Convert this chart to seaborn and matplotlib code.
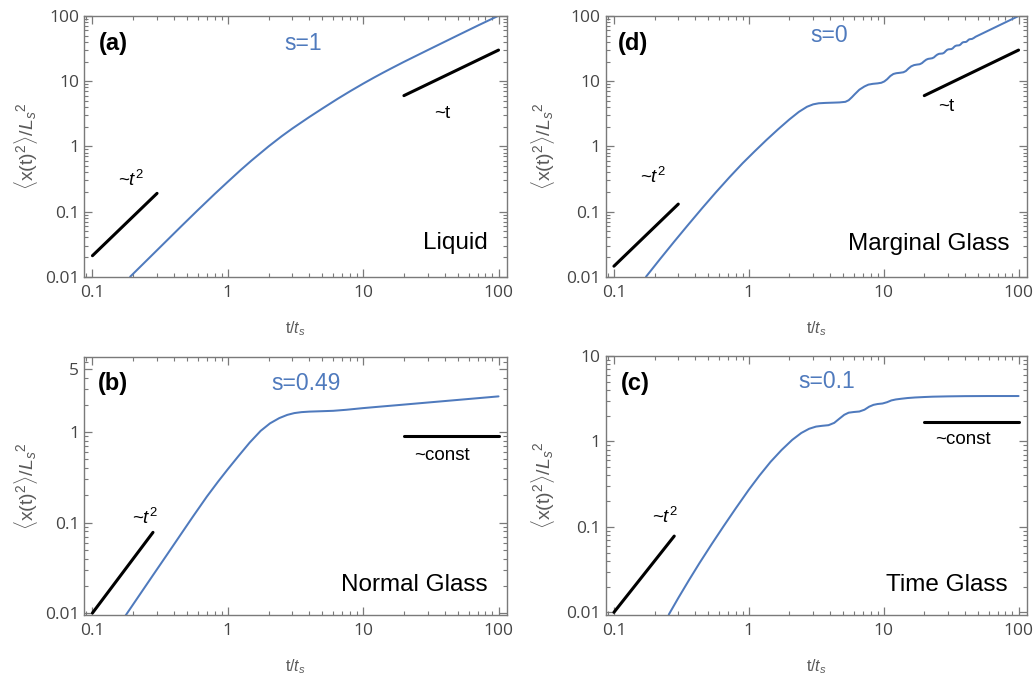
import matplotlib
matplotlib.use("Agg")
import matplotlib.pyplot as plt
import seaborn as sns
from matplotlib.ticker import FixedLocator, FixedFormatter, LogLocator, NullFormatter

# ---------------- data ----------------
# (a) Liquid, s=1
t_a = [0.19, 0.3, 0.45, 0.6, 0.8, 1.0, 1.25, 1.5, 2.0, 2.5, 3.0, 4.0, 5.0, 6.5, 8.0,
       10, 12, 14, 16, 20, 30, 50, 70, 100]
y_a = [0.010, 0.0255, 0.0586, 0.105, 0.186, 0.286, 0.437, 0.608, 0.998, 1.43, 1.88, 2.82,
       3.81, 5.39, 7.0, 9.17, 11.33, 13.47, 15.58, 19.78, 30.0, 50.5, 71.0, 101.0]

# (d) Marginal glass, s=0
t_d = [0.173, 0.22, 0.28, 0.35, 0.45, 0.57, 0.72, 0.9, 1.1, 1.35, 1.65, 2.0, 2.35, 2.7,
       3.0, 3.3, 3.7, 4.2, 4.7, 5.2, 5.5, 5.8, 6.1, 6.6, 7.2, 7.7, 8.3, 9.0, 9.6,
       10.1, 10.6, 11.2, 11.8, 12.4, 13.2, 14.0, 14.6, 15.3, 16.0, 16.8, 17.6, 18.5,
       19.2, 20.0, 20.7, 21.4, 22.2, 22.9, 23.6, 24.3, 25.0, 25.75, 27.35,
       28.1, 28.8, 29.5, 30.2, 31.8, 32.5, 33.2, 33.9, 34.65, 36.25, 37.0,
       37.7, 38.4, 39.1, 40.7, 41.4, 42.1, 42.8, 43.6, 45.1, 46.5, 48.0,
       53.0, 58.0, 65.0, 72.0, 80.0, 90.0, 100.0]
y_d = [0.010, 0.0187, 0.0346, 0.0604, 0.112, 0.197, 0.337, 0.551, 0.831, 1.25, 1.83, 2.59,
       3.38, 4.05, 4.41, 4.58, 4.64, 4.68, 4.72, 4.82, 5.1, 5.65, 6.3, 7.4, 8.3, 8.85,
       9.1, 9.25, 9.45, 9.9, 10.7, 12.0, 12.9, 13.25, 13.45, 13.7, 14.3, 15.7, 16.9,
       17.65, 17.95, 18.2, 18.9, 20.3, 21.4, 22.0, 22.25, 22.5, 23.2, 24.5, 25.6, 26.3,
       26.6, 27.4, 28.9, 30.2, 30.8, 31.1, 31.9, 33.4, 34.6, 35.2, 35.5, 36.3,
       37.8, 39.2, 39.7, 40.0, 40.8, 42.2, 43.5, 44.1, 44.4, 45.9, 48.0,
       53.0, 58.0, 65.0, 72.0, 80.0, 90.0, 100.0]

# (b) Normal glass, s=0.49
t_b = [0.175, 0.22, 0.28, 0.35, 0.44, 0.55, 0.7, 0.85, 1.0, 1.2, 1.45, 1.75, 2.05, 2.4,
       2.75, 3.1, 3.5, 4.0, 5.0, 6.0, 7.5, 9.9, 13, 18, 25, 35, 50, 70, 100]
y_b = [0.0093, 0.0154, 0.0262, 0.0427, 0.0707, 0.1155, 0.194, 0.286, 0.390, 0.546, 0.768,
       1.037, 1.254, 1.434, 1.556, 1.629, 1.669, 1.691, 1.710, 1.726, 1.772, 1.847, 1.914,
       1.995, 2.082, 2.175, 2.278, 2.380, 2.493]

# (c) Time glass, s=0.1
t_c = [0.255, 0.3, 0.36, 0.43, 0.53, 0.65, 0.8, 1.0, 1.2, 1.45, 1.75, 2.1, 2.45, 2.8,
       3.15, 3.5, 3.9, 4.3, 4.7, 5.1, 5.5, 6.0, 6.6, 7.2, 7.8, 8.4, 9.0, 9.8, 10.6,
       11.4, 12.3, 13.5, 15, 17.1, 20, 23, 30, 40, 60, 100]
y_c = [0.0094, 0.0147, 0.0238, 0.0375, 0.0626, 0.1017, 0.1646, 0.272, 0.399, 0.577, 0.794,
       1.044, 1.256, 1.407, 1.492, 1.524, 1.55, 1.65, 1.85, 2.05, 2.17, 2.21, 2.24, 2.35,
       2.55, 2.68, 2.74, 2.78, 2.88, 3.02, 3.10, 3.16, 3.22, 3.27, 3.31, 3.34, 3.37, 3.39,
       3.40, 3.40]

# guide lines
g2_t_a, g2_y_a = [0.1, 0.3], [0.021, 0.19]
g1_t_a, g1_y_a = [20, 100], [6.0, 30.0]
g2_t_d, g2_y_d = [0.1, 0.3], [0.0145, 0.13]
g1_t_d, g1_y_d = [20, 100], [6.0, 30.0]
g2_t_b, g2_y_b = [0.1, 0.28], [0.01, 0.078]
g0_t_b, g0_y_b = [20, 100], [0.9, 0.9]
g2_t_c, g2_y_c = [0.1, 0.28], [0.01, 0.078]
g0_t_c, g0_y_c = [20, 100], [1.7, 1.7]

x_ticks = [0.1, 1, 10, 100]
x_ticklabels = ["0.1", "1", "10", "100"]
y_ticks_ad = [0.01, 0.1, 1, 10, 100]
y_ticklabels_ad = ["0.01", "0.1", "1", "10", "100"]
y_ticks_b = [0.01, 0.1, 1, 5]
y_ticklabels_b = ["0.01", "0.1", "1", "5"]
y_ticks_c = [0.01, 0.1, 1, 10]
y_ticklabels_c = ["0.01", "0.1", "1", "10"]

panel_tags = ["(a)", "(d)", "(b)", "(c)"]
s_labels = ["s=1", "s=0", "s=0.49", "s=0.1"]
phase_labels = ["Liquid", "Marginal Glass", "Normal Glass", "Time Glass"]
guide_labels = [["~$t^2$", "~t"], ["~$t^2$", "~t"], ["~$t^2$", "~const"], ["~$t^2$", "~const"]]

# ---------------- style ----------------
sns.set_theme(style="ticks")
plt.rcParams["font.family"] = ["Liberation Sans", "DejaVu Sans"]
plt.rcParams["mathtext.fontset"] = "custom"
plt.rcParams["mathtext.rm"] = "Liberation Sans"
plt.rcParams["mathtext.it"] = "Liberation Sans:italic"
plt.rcParams["mathtext.bf"] = "Liberation Sans:bold"

BLUE = "#4f7abd"
FRAME = "#7a7a7a"
TICKLAB = "#454545"
AXLAB = "#5a5a5a"

fig = plt.figure(figsize=(10.34, 6.81), dpi=100)
W, H = 1034, 681

def ax_rect(x0, x1, y0, y1):
    return [x0 / W, 1 - y1 / H, (x1 - x0) / W, (y1 - y0) / H]

panels = [
    dict(rect=ax_rect(84, 507, 16, 276.7), t=t_a, y=y_a, ylim=(0.01, 100),
         yt=y_ticks_ad, ytl=y_ticklabels_ad, ylx=-0.104,
         g2=(g2_t_a, g2_y_a), g1=(g1_t_a, g1_y_a),
         pos=dict(tag=(0.069, 0.895), s=(0.518, 0.895), g2=(0.112, 0.37),
                  g1=(0.846, 0.627), ph=(0.877, 0.128))),
    dict(rect=ax_rect(605.5, 1027, 16, 276.7), t=t_d, y=y_d, ylim=(0.01, 100),
         yt=y_ticks_ad, ytl=y_ticklabels_ad, ylx=-0.115,
         g2=(g2_t_d, g2_y_d), g1=(g1_t_d, g1_y_d),
         pos=dict(tag=(0.066, 0.895), s=(0.530, 0.927), g2=(0.113, 0.382),
                  g1=(0.809, 0.651), ph=(0.766, 0.126))),
    dict(rect=ax_rect(84, 507, 357, 615), t=t_b, y=y_b, ylim=(0.0095, 6.8),
         yt=y_ticks_b, ytl=y_ticklabels_b, ylx=-0.104,
         g2=(g2_t_b, g2_y_b), g1=(g0_t_b, g0_y_b),
         pos=dict(tag=(0.069, 0.898), s=(0.526, 0.898), g2=(0.144, 0.375),
                  g1=(0.846, 0.62), ph=(0.782, 0.116))),
    dict(rect=ax_rect(605.5, 1027, 356, 615), t=t_c, y=y_c, ylim=(0.0093, 10),
         yt=y_ticks_c, ytl=y_ticklabels_c, ylx=-0.115,
         g2=(g2_t_c, g2_y_c), g1=(g0_t_c, g0_y_c),
         pos=dict(tag=(0.070, 0.895), s=(0.525, 0.90), g2=(0.141, 0.38),
                  g1=(0.849, 0.676), ph=(0.81, 0.116))),
]

for i, p in enumerate(panels):
    ax = fig.add_axes(p["rect"])
    ax.set_xscale("log")
    ax.set_yscale("log")

    sns.lineplot(x=p["t"], y=p["y"], ax=ax, color=BLUE, lw=1.45,
                 estimator=None, sort=False)
    sns.lineplot(x=p["g2"][0], y=p["g2"][1], ax=ax, color="black", lw=2.2,
                 estimator=None, sort=False)
    sns.lineplot(x=p["g1"][0], y=p["g1"][1], ax=ax, color="black", lw=2.2,
                 estimator=None, sort=False)

    ax.set_xlim(0.0866, 115.5)
    ax.set_ylim(*p["ylim"])

    ax.xaxis.set_major_locator(FixedLocator(x_ticks))
    ax.xaxis.set_major_formatter(FixedFormatter(x_ticklabels))
    ax.xaxis.set_minor_locator(LogLocator(base=10, subs=range(2, 10), numticks=50))
    ax.xaxis.set_minor_formatter(NullFormatter())
    ax.yaxis.set_major_locator(FixedLocator(p["yt"]))
    ax.yaxis.set_major_formatter(FixedFormatter(p["ytl"]))
    ax.yaxis.set_minor_locator(LogLocator(base=10, subs=range(2, 10), numticks=50))
    ax.yaxis.set_minor_formatter(NullFormatter())

    ax.tick_params(which="both", direction="in", top=True, right=True,
                   color=FRAME, labelcolor=TICKLAB, labelsize=12.5,
                   labelfontfamily="Open Sans")
    ax.tick_params(which="major", length=5.5, width=0.9)
    ax.tick_params(which="minor", length=3, width=0.8)
    ax.tick_params(axis="x", which="major", pad=6)
    ax.tick_params(axis="y", which="major", pad=3.5)
    for sp in ax.spines.values():
        sp.set_color(FRAME)
        sp.set_linewidth(1.0)
        sp.set_visible(True)

    ax.set_xlabel(r"$\mathrm{t}/t_{s}$", fontsize=11.5, color=AXLAB)
    ax.set_ylabel(r"$\langle \mathrm{x(t)}^{2}\rangle/L_{s}{}^{2}$", fontsize=14, color=AXLAB)
    ax.xaxis.set_label_coords(0.5, -0.165)
    ax.yaxis.set_label_coords(p["ylx"], 0.5)

    pos = p["pos"]
    tr = ax.transAxes
    ax.text(*pos["tag"], panel_tags[i], transform=tr, ha="center", va="center",
            fontsize=17, fontweight="bold", color="black")
    ax.text(*pos["s"], s_labels[i], transform=tr, ha="center", va="center",
            fontsize=16.5, color=BLUE)
    ax.text(*pos["g2"], guide_labels[i][0], transform=tr, ha="center", va="center",
            fontsize=13.5, color="black")
    ax.text(*pos["g1"], guide_labels[i][1], transform=tr, ha="center", va="center",
            fontsize=13.5, color="black")
    ax.text(*pos["ph"], phase_labels[i], transform=tr, ha="center", va="center",
            fontsize=17.5, color="black")

fig.savefig("out.png", dpi=100)
